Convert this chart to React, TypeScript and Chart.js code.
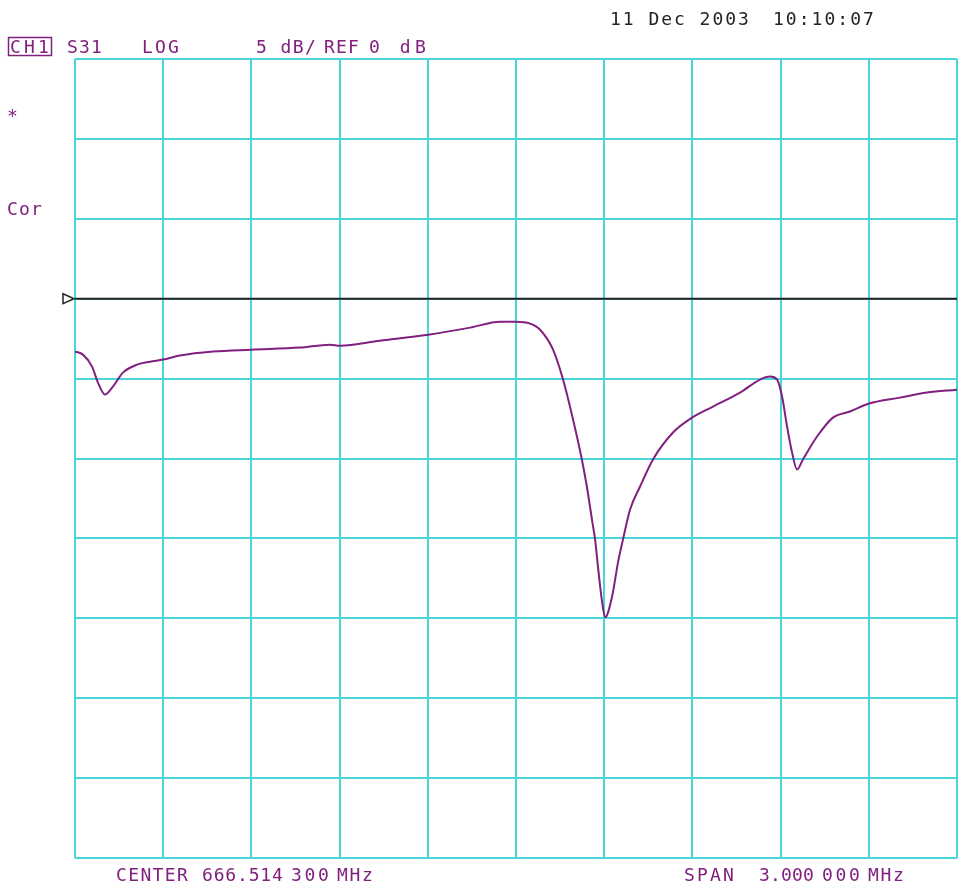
import React, { useEffect, useRef } from "react";
import { Chart, registerables } from "chart.js";

Chart.register(...registerables);

// Frequency offset from center (MHz) and S31 magnitude (dB)
const freqOffsetMHz = [
  -1.5, -1.473, -1.442, -1.422, -1.398, -1.371, -1.337, -1.289, -1.245, -1.201,
  -1.143, -1.031, -0.901, -0.735, -0.633, -0.599, -0.463, -0.299, -0.156, -0.054,
  0.0, 0.048, 0.082, 0.126, 0.16, 0.194, 0.224, 0.241, 0.259, 0.269,
  0.279, 0.293, 0.303, 0.327, 0.347, 0.364, 0.388, 0.422, 0.466, 0.534,
  0.599, 0.67, 0.762, 0.83, 0.864, 0.888, 0.905, 0.922, 0.939, 0.956,
  0.976, 1.024, 1.078, 1.136, 1.201, 1.306, 1.398, 1.5,
];
const s31dB = [
  -3.31, -3.5, -4.25, -5.25, -6.0, -5.5, -4.625, -4.125, -3.94, -3.81,
  -3.56, -3.31, -3.19, -3.06, -2.875, -2.94, -2.625, -2.25, -1.81, -1.44,
  -1.44, -1.56, -1.94, -3.19, -5.06, -7.56, -10.06, -11.75, -13.9, -15.06,
  -16.8, -19.0, -19.94, -18.625, -16.5, -15.06, -13.19, -11.75, -10.06, -8.375,
  -7.44, -6.75, -5.875, -5.06, -4.875, -5.06, -6.125, -8.0, -9.625, -10.69,
  -10.06, -8.625, -7.44, -7.06, -6.56, -6.19, -5.875, -5.69,
];
const refLevelDb = 0;
const refLineX = [-1.5, 1.5];
const xRange = [-1.5, 1.5];
const xStepMHz = 0.3;
const yRange = [-35, 15];
const yStepDb = 5;

const channelLabel = "CH1";
const headerTokens = ["S31", "LOG", "5 dB/", "REF", "0 dB"];
const dateTokens = ["11 Dec 2003", "10:10:07"];
const sideTokens = ["*", "Cor"];
const footerTokens = ["CENTER", "666.514", "300", "MHz", "SPAN", "3.000", "000", "MHz"];

const PURPLE = "#80207f";
const CYAN = "#48d6dc";
const FONT = "18px 'DejaVu Sans Mono', monospace";

function drawFit(ctx: CanvasRenderingContext2D, text: string, x: number, y: number, width: number, color: string) {
  ctx.save();
  ctx.font = FONT;
  ctx.fillStyle = color;
  ctx.textBaseline = "alphabetic";
  ctx.textAlign = "left";
  (ctx as any).letterSpacing = "0px";
  const m = ctx.measureText(text);
  const ink = m.actualBoundingBoxRight + m.actualBoundingBoxLeft;
  const n = text.length;
  const ls = n > 1 ? (width - ink) / (n - 1) : 0;
  (ctx as any).letterSpacing = ls.toFixed(2) + "px";
  ctx.fillText(text, x + m.actualBoundingBoxLeft, y);
  ctx.restore();
}

const labelPlugin = {
  id: "analyzerLabels",
  afterDraw(chart: any) {
    const ctx: CanvasRenderingContext2D = chart.ctx;
    const area = chart.chartArea;
    const yRef = chart.scales.y.getPixelForValue(refLevelDb);
    // reference marker triangle
    ctx.save();
    ctx.strokeStyle = "#222";
    ctx.fillStyle = "#fff";
    ctx.lineWidth = 1.5;
    ctx.beginPath();
    ctx.moveTo(area.left - 12, yRef - 5);
    ctx.lineTo(area.left - 1, yRef);
    ctx.lineTo(area.left - 12, yRef + 5);
    ctx.closePath();
    ctx.fill();
    ctx.stroke();
    ctx.restore();

    // channel box
    ctx.save();
    ctx.strokeStyle = PURPLE;
    ctx.lineWidth = 1.5;
    ctx.strokeRect(8.5, 37.5, 43, 18);
    ctx.restore();
    drawFit(ctx, channelLabel, 11, 53, 37, PURPLE);

    const hdr: [number, number][] = [[68, 101], [143, 178], [257, 315], [325, 358], [370, 425]];
    headerTokens.forEach((t, i) => drawFit(ctx, t, hdr[i][0], 53, hdr[i][1] - hdr[i][0], PURPLE));

    const dt: [number, number][] = [[612, 748], [775, 873]];
    dateTokens.forEach((t, i) => drawFit(ctx, t, dt[i][0], 25, dt[i][1] - dt[i][0], "#222"));

    drawFit(ctx, sideTokens[0], 8, 122, 10, PURPLE);
    drawFit(ctx, sideTokens[1], 8, 215, 34, PURPLE);

    const ft: [number, number][] = [
      [117, 188], [203, 282], [292, 328], [337, 372],
      [685, 733], [760, 813], [823, 859], [868, 903],
    ];
    footerTokens.forEach((t, i) => drawFit(ctx, t, ft[i][0], 881, ft[i][1] - ft[i][0], PURPLE));
  },
};

export default function App() {
  const ref = useRef<HTMLCanvasElement | null>(null);
  useEffect(() => {
    if (!ref.current) return;
    const trace = freqOffsetMHz.map((f, i) => ({ x: f, y: s31dB[i] }));
    const refLine = refLineX.map((f) => ({ x: f, y: refLevelDb }));
    const chart = new Chart(ref.current, {
      type: "line",
      data: {
        datasets: [
          {
            data: refLine,
            borderColor: "#222",
            borderWidth: 2,
            pointRadius: 0,
          },
          {
            data: trace,
            borderColor: PURPLE,
            borderWidth: 2,
            pointRadius: 0,
            cubicInterpolationMode: "monotone",
          },
        ],
      },
      options: {
        animation: false,
        responsive: false,
        layout: { padding: { left: 75, top: 59, right: 6, bottom: 30 } },
        plugins: { legend: { display: false }, tooltip: { enabled: false } },
        scales: {
          x: {
            type: "linear",
            min: xRange[0],
            max: xRange[1],
            ticks: { display: false, stepSize: xStepMHz },
            grid: { color: CYAN, lineWidth: 2, drawTicks: false },
            border: { display: false },
          },
          y: {
            type: "linear",
            min: yRange[0],
            max: yRange[1],
            ticks: { display: false, stepSize: yStepDb },
            grid: { color: CYAN, lineWidth: 2, drawTicks: false },
            border: { display: false },
          },
        },
      },
      plugins: [labelPlugin],
    });
    return () => chart.destroy();
  }, []);
  return (
    <div style={{ position: "absolute", left: 0, top: 0, width: 963, height: 888, background: "#fff" }}>
      <canvas ref={ref} width={963} height={888} />
    </div>
  );
}
